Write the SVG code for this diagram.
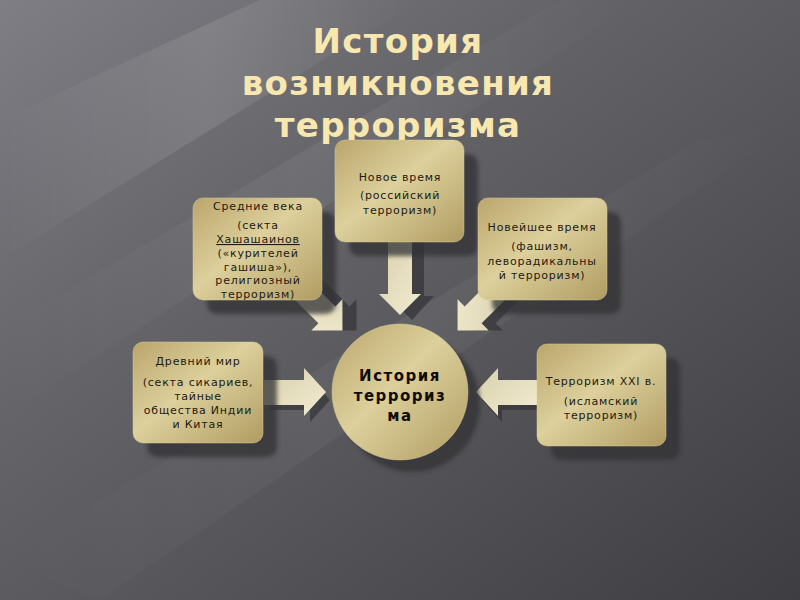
<svg xmlns="http://www.w3.org/2000/svg" width="800" height="600" viewBox="0 0 800 600">
<defs>
<linearGradient id="bg" x1="0" y1="0" x2="1" y2="1">
<stop offset="0" stop-color="#7e7e84"/>
<stop offset="0.35" stop-color="#646469"/>
<stop offset="1" stop-color="#3e3e42"/>
</linearGradient>
<linearGradient id="streak" x1="0" y1="0" x2="1" y2="0">
<stop offset="0" stop-color="#ffffff" stop-opacity="0"/>
<stop offset="0.5" stop-color="#ffffff" stop-opacity="0.12"/>
<stop offset="1" stop-color="#ffffff" stop-opacity="0"/>
</linearGradient>
<linearGradient id="gold" x1="0" y1="0" x2="1" y2="1">
<stop offset="0" stop-color="#bba66c"/>
<stop offset="0.45" stop-color="#ddd09c"/>
<stop offset="1" stop-color="#b09c62"/>
</linearGradient>
<linearGradient id="arrowFill" x1="0" y1="0" x2="1" y2="1">
<stop offset="0" stop-color="#d8d0ac"/>
<stop offset="1" stop-color="#f2ecd2"/>
</linearGradient>
<filter id="soft" x="-20%" y="-20%" width="140%" height="140%">
<feGaussianBlur stdDeviation="2"/>
</filter>
<style>
.node{fill:url(#gold);stroke:#d8cc98;stroke-width:0.5}
.shadow{fill:#303034;opacity:0.75;filter:url(#soft)}
.arrow{fill:url(#arrowFill)}
.ashadow{fill:#333338;opacity:0.7}
.t{font-family:"DejaVu Sans",sans-serif;font-size:11px;fill:#1e1a10;text-anchor:middle;letter-spacing:0.8px}
.c{font-family:"DejaVu Sans",sans-serif;font-size:15px;fill:#100c04;text-anchor:middle;letter-spacing:1.5px;font-weight:bold}
.title{font-family:"DejaVu Sans",sans-serif;font-size:34px;font-weight:bold;fill:#f8e8b0;text-anchor:middle;letter-spacing:1.3px}
</style>
</defs>
<rect width="800" height="600" fill="url(#bg)"/>
<g opacity="0.9">
<polygon points="0,120 260,0 420,0 0,260" fill="url(#streak)"/>
<polygon points="0,330 560,0 640,0 0,420" fill="url(#streak)" opacity="0.6"/>
<polygon points="0,560 700,140 800,120 100,600" fill="url(#streak)" opacity="0.5"/>
</g>

<g id="title">
<text class="title" x="398" y="53">История</text>
<text class="title" x="398" y="95">возникновения</text>
<text class="title" x="398" y="137">терроризма</text>
</g>

<g id="connectors">
<polygon class="ashadow" points="400,242 424,242 424,296 434,296 412,320 388,296 400,296"/>
<polygon class="arrow" points="388,242 412,242 412,294 421,294 400,315 379,294 388,294"/>
<polygon class="ashadow" points="270,390 310,390 310,378 330,400 310,422 310,410 270,410"/>
<polygon class="arrow" points="264,380 304,380 304,368 326,392 304,416 304,405 264,405"/>
<polygon class="ashadow" points="540,390 502,390 502,378 482,400 502,422 502,410 540,410"/>
<polygon class="arrow" points="537,380 498,380 498,368 476,392 498,416 498,405 537,405"/>
<g transform="translate(300,288) rotate(45)">
<polygon class="ashadow" transform="translate(10,-10)" points="0,-12 38,-12 38,-22 60,0 38,22 38,12 0,12"/>
<polygon class="arrow" points="0,-12 38,-12 38,-22 60,0 38,22 38,12 0,12"/>
</g>
<g transform="translate(500,288) rotate(135)">
<polygon class="ashadow" transform="translate(-10,-10)" points="0,-12 38,-12 38,-22 60,0 38,22 38,12 0,12"/>
<polygon class="arrow" points="0,-12 38,-12 38,-22 60,0 38,22 38,12 0,12"/>
</g>
</g>

<g id="node-middle-ages">
<rect class="shadow" x="207" y="212" width="129" height="102" rx="10"/>
<rect class="node" x="193" y="198" width="129" height="102" rx="10"/>
<text class="t" x="258" y="210">Средние века</text>
<text class="t" x="258" y="229">(секта</text>
<text class="t" x="258" y="243" text-decoration="underline">Хашашаинов</text>
<text class="t" x="258" y="257">(«курителей</text>
<text class="t" x="258" y="271">гашиша»),</text>
<text class="t" x="258" y="284">религиозный</text>
<text class="t" x="258" y="298">терроризм)</text>
</g>

<g id="node-modern">
<rect class="shadow" x="349" y="154" width="129" height="102" rx="10"/>
<rect class="node" x="335" y="140" width="129" height="102" rx="10"/>
<text class="t" x="400" y="181">Новое время</text>
<text class="t" x="400" y="199">(российский</text>
<text class="t" x="400" y="214">терроризм)</text>
</g>

<g id="node-newest">
<rect class="shadow" x="492" y="212" width="129" height="102" rx="10"/>
<rect class="node" x="478" y="198" width="129" height="102" rx="10"/>
<text class="t" x="542" y="231">Новейшее время</text>
<text class="t" x="542" y="250">(фашизм,</text>
<text class="t" x="542" y="265">леворадикальны</text>
<text class="t" x="542" y="279">й терроризм)</text>
</g>

<g id="node-ancient">
<rect class="shadow" x="147" y="356" width="130" height="101" rx="10"/>
<rect class="node" x="133" y="342" width="130" height="101" rx="10"/>
<text class="t" x="198" y="365">Древний мир</text>
<text class="t" x="198" y="386">(секта сикариев,</text>
<text class="t" x="198" y="400">тайные</text>
<text class="t" x="198" y="414">общества Индии</text>
<text class="t" x="198" y="428">и Китая</text>
</g>

<g id="node-xxi">
<rect class="shadow" x="551" y="358" width="129" height="102" rx="10"/>
<rect class="node" x="537" y="344" width="129" height="102" rx="10"/>
<text class="t" x="601" y="385">Терроризм XXI в.</text>
<text class="t" x="601" y="405">(исламский</text>
<text class="t" x="601" y="419">терроризм)</text>
</g>

<g id="node-center">
<circle class="shadow" cx="412" cy="404" r="68"/>
<circle class="node" cx="400" cy="392" r="68"/>
<text class="c" x="400" y="381">История</text>
<text class="c" x="400" y="401">террориз</text>
<text class="c" x="400" y="421">ма</text>
</g>
</svg>
